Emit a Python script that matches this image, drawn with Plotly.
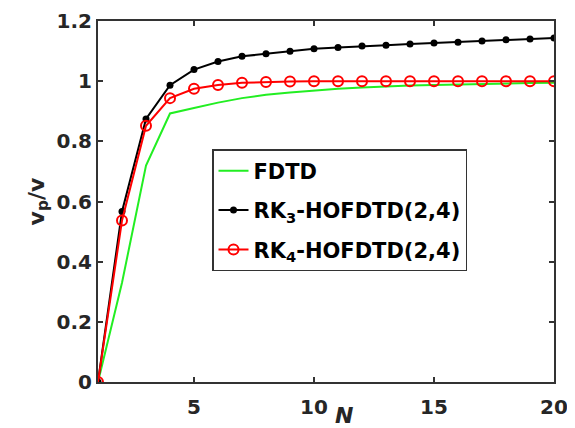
import plotly.graph_objects as go

N = list(range(1, 21))
fdtd = [0, 0.33, 0.72, 0.893, 0.911, 0.929, 0.944, 0.955, 0.963, 0.970,
        0.975, 0.979, 0.983, 0.986, 0.988, 0.990, 0.992, 0.993, 0.994, 0.995]
rk3 = [0, 0.567, 0.875, 0.987, 1.039, 1.066, 1.083, 1.092, 1.100, 1.108,
       1.112, 1.117, 1.120, 1.124, 1.127, 1.130, 1.134, 1.138, 1.141, 1.144]
rk4 = [0, 0.537, 0.852, 0.944, 0.975, 0.988, 0.995, 0.998, 0.999, 1.0,
       1.0, 1.0, 1.0, 1.0, 1.0, 1.0, 1.0, 1.0, 1.0, 1.0]

names = ["FDTD", "RK<sub>3</sub>-HOFDTD(2,4)", "RK<sub>4</sub>-HOFDTD(2,4)"]
x_ticks = [5, 10, 15, 20]
y_ticks = [0, 0.2, 0.4, 0.6, 0.8, 1.0, 1.2]
y_ticklabels = ["0", "0.2", "0.4", "0.6", "0.8", "1", "1.2"]

FONT = "DejaVu Sans"
AX = "#333333"

fig = go.Figure()
fig.add_trace(go.Scatter(x=N, y=fdtd, name=names[0], mode="lines", legendgroup="a",
                         line=dict(color="#22ee22", width=2)))
fig.add_trace(go.Scatter(x=N, y=rk3, name=names[1], mode="lines+markers", legendgroup="b",
                         line=dict(color="black", width=2),
                         marker=dict(symbol="circle", size=7, color="black")))
fig.add_trace(go.Scatter(x=N, y=rk4, name=names[2], mode="lines+markers", legendgroup="c",
                         line=dict(color="#ff0000", width=2),
                         marker=dict(symbol="circle-open", size=10, color="#ff0000",
                                     line=dict(width=2, color="#ff0000"))))

fig.update_layout(
    width=567, height=420,
    margin=dict(l=90, r=21, t=13, b=46, autoexpand=False),
    paper_bgcolor="white", plot_bgcolor="white",
    font=dict(family=FONT, size=20, color="#262626"),
    showlegend=True,
    legend=dict(x=0.25, y=0.645, xanchor="left", yanchor="top",
                bgcolor="white", bordercolor=AX, borderwidth=1.5,
                font=dict(family=FONT, size=21, color="black", weight="bold"),
                itemwidth=30, traceorder="grouped", tracegroupgap=9),
)
fig.update_xaxes(range=[1, 20], tickvals=x_ticks, ticks="inside", ticklen=5,
                 tickcolor=AX, tickwidth=1.5, showline=True, linecolor=AX,
                 linewidth=2, mirror="ticks", showgrid=False, zeroline=False,
                 ticklabelstandoff=6, ticklabeloverflow="allow",
                 tickfont=dict(family=FONT, size=20, weight="bold"))
fig.update_yaxes(range=[0, 1.2005], tickvals=y_ticks, ticktext=y_ticklabels,
                 ticks="inside", ticklen=5, tickcolor=AX, tickwidth=1.5,
                 showline=True, linecolor=AX, linewidth=2, mirror="ticks",
                 showgrid=False, zeroline=False, ticklabeloverflow="allow",
                 tickfont=dict(family=FONT, size=20, weight="bold"),
                 title=dict(text="v<sub>p</sub>/v", standoff=6,
                            font=dict(family=FONT, size=22, weight="bold")))
fig.add_annotation(text="<b><i>N</i></b>", xref="paper", yref="paper",
                   x=0.54, y=-0.052, yanchor="top", showarrow=False,
                   font=dict(family=FONT, size=22, color="#262626"))

fig.write_html("out.html")
